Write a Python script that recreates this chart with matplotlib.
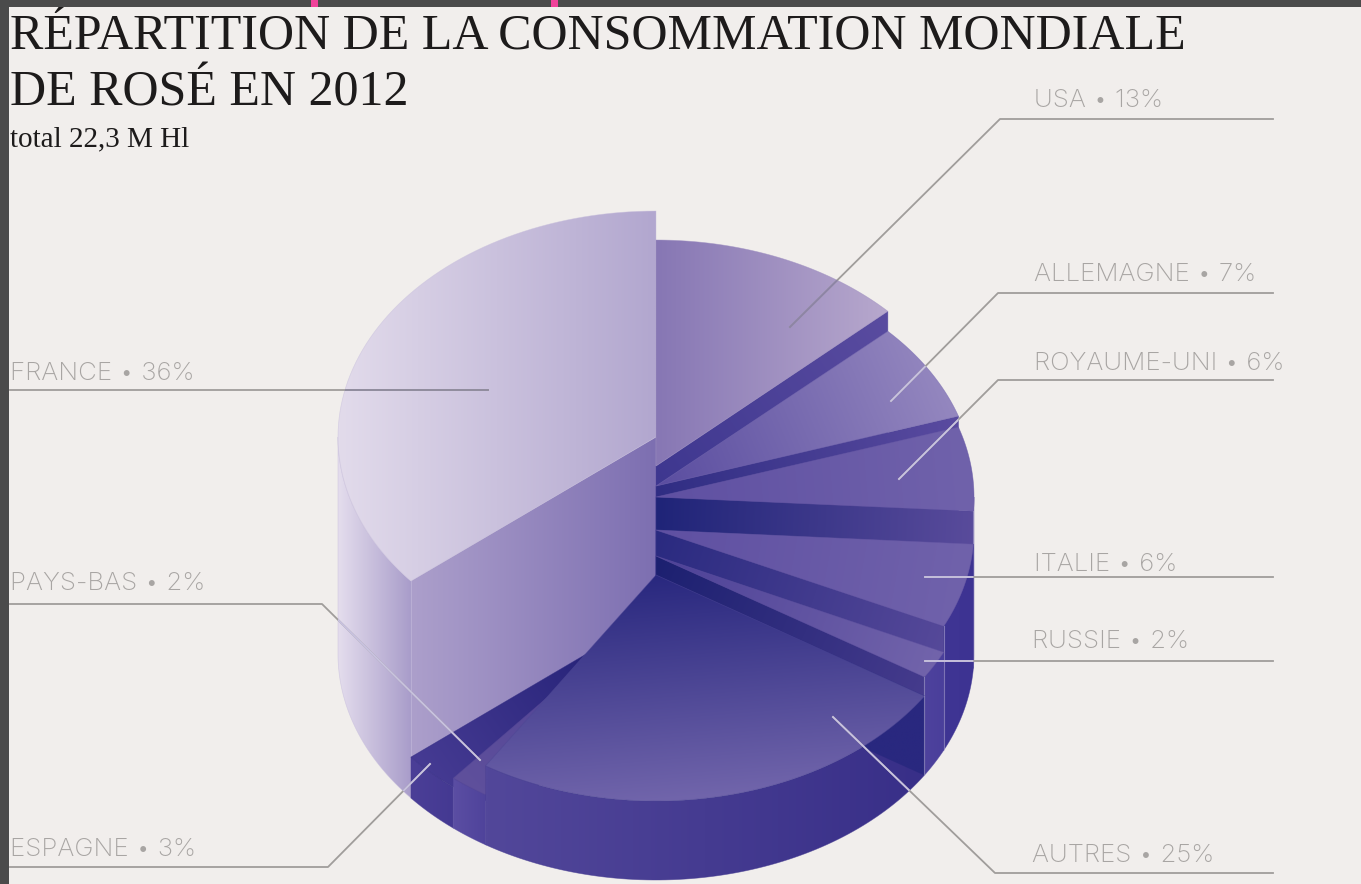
"""Stepped 3D pie: world rosé consumption by country, 2012."""

import numpy as np
import matplotlib
matplotlib.use('Agg')
import matplotlib.pyplot as plt
from matplotlib.colors import to_rgb
from matplotlib.patches import Polygon, Rectangle

W, H = 1361, 884
BG = '#f1eeec'
FRAME = '#4b4b4b'
PINK = '#f0429a'

# clockwise from 12 o'clock
countries = ['USA', 'ALLEMAGNE', 'ROYAUME-UNI', 'ITALIE', 'RUSSIE',
             'AUTRES', 'PAYS-BAS', 'ESPAGNE', 'FRANCE']
shares = [13, 7, 6, 6, 2, 25, 2, 3, 36]

title_lines = ['RÉPARTITION DE LA CONSOMMATION MONDIALE', 'DE ROSÉ EN 2012']
subtitle = 'total 22,3 M Hl'

# pie geometry, in pixels
CX, RX, RY = 656, 318, 226
BASE = 654  # centre of the bottom ellipse
levels = [466, 486, 497, 530, 556, 575, 604, 613, 437]  # centre of each top

# top face gradient: from, to, screen direction (None = apex towards rim)
face_from = ['#8777b4', '#5a4da0', '#5f50a2', '#5f50a2', '#4d4197',
             '#29287f', '#4a3d92', '#1c1b70', '#e2dbeb']
face_to = ['#b7a8cd', '#9487bf', '#7062ab', '#7062ab', '#7264ab',
           '#7165ab', '#5f509c', '#463b93', '#b2a7cf']
face_dir = [(1, 0), None, None, None, None, (0.08, 1), None, None, (1, 0)]

# outer wall gradient, left to right
rim_left = ['#6a5aa5', '#6a5aa5', '#6a5aa5', '#3f3594', '#4e429d',
            '#52479a', '#5b4ea3', '#4b3f97', '#e4dded']
rim_right = ['#6a5aa5', '#6a5aa5', '#6a5aa5', '#3d3392', '#4a3f9b',
             '#382f88', '#4f439b', '#443992', '#a99dca']

# radial wall gradient, apex to rim
cut_from = ['#35308a', '#2b2a80', '#1f2478', '#2a2a80', '#1c2070',
            '#29287f', '#3a3090', '#2a2685', '#7d6fb1']
cut_to = ['#5a4ca0', '#5a4ba0', '#5a4c9c', '#5a4c9c', '#4a3e90',
          '#29287f', '#5b4ea3', '#4b3f97', '#ac9fcb']

# leader lines per country, and their colour where they cross the pie
leaders = {
    'USA': [(1273, 119), (1000, 119), (790, 327)],
    'ALLEMAGNE': [(1273, 293), (998, 293), (891, 401)],
    'ROYAUME-UNI': [(1273, 380), (998, 380), (899, 479)],
    'ITALIE': [(1273, 577), (925, 577)],
    'RUSSIE': [(1273, 661), (925, 661)],
    'AUTRES': [(1273, 873), (995, 873), (833, 717)],
    'PAYS-BAS': [(10, 604), (322, 604), (480, 760)],
    'ESPAGNE': [(10, 867), (328, 867), (430, 764)],
    'FRANCE': [(10, 390), (488, 390)],
}
leader_inner = {'USA': '#8d84a6', 'FRANCE': '#8f8b9e'}
LEADER_OUT = '#a09d9b'
LEADER_IN = '#c8c2e0'

# left end and baseline of each label
label_pos = {
    'USA': (1034, 107), 'ALLEMAGNE': (1034, 281), 'ROYAUME-UNI': (1034, 370),
    'ITALIE': (1034, 571), 'RUSSIE': (1032, 648), 'AUTRES': (1032, 862),
    'PAYS-BAS': (10, 590), 'ESPAGNE': (10, 856), 'FRANCE': (10, 380),
}

fig = plt.figure(figsize=(W / 100, H / 100), dpi=100, facecolor=BG)
ax = fig.add_axes([0, 0, 1, 1])
ax.set_axis_off()


def rim(deg, level):
    """Screen points on the ellipse of centre height level."""
    rad = np.radians(deg)
    return np.column_stack([CX + RX * np.sin(rad), level - RY * np.cos(rad)])


def gradient_fill(verts, c_from, c_to, direction, seam=True):
    """Fill a polygon with a linear gradient along direction."""
    verts = np.asarray(verts, dtype=float)
    dx, dy = direction
    proj = verts[:, 0] * dx + verts[:, 1] * dy
    x0, y0 = verts.min(axis=0)
    x1, y1 = verts.max(axis=0)
    xs, ys = np.meshgrid(np.linspace(x0, x1, 96), np.linspace(y0, y1, 96))
    t = (xs * dx + ys * dy - proj.min()) / max(proj.max() - proj.min(), 1e-6)
    t = np.clip(t, 0, 1)[..., None]
    img = np.array(to_rgb(c_from)) * (1 - t) + np.array(to_rgb(c_to)) * t
    im = ax.imshow(img, extent=(x0, x1, y0, y1), origin='lower',
                   aspect='auto', interpolation='bilinear', zorder=1)
    patch = Polygon(verts, closed=True, transform=ax.transData)
    im.set_clip_path(patch)
    if seam:
        # thin outline softens the hard clip edge
        mid = (np.array(to_rgb(c_from)) + np.array(to_rgb(c_to))) / 2
        ax.add_patch(Polygon(verts, closed=True, fill=False, edgecolor=mid,
                             lw=0.5, alpha=0.6, zorder=1))


def draw_slice(i):
    a0, a1 = starts[i], starts[i + 1]
    level = levels[i]
    arc = np.linspace(a0, a1, 80)
    top_rim = rim(arc, level)
    apex = (CX, level)

    # outer wall, only the front half of the cylinder shows
    lo, hi = max(a0, 90), min(a1, 270)
    if hi > lo:
        wall = np.linspace(lo, hi, 80)
        verts = np.vstack([rim(wall, level), rim(wall, BASE)[::-1]])
        gradient_fill(verts, rim_left[i], rim_right[i], (1, 0))

    # radial wall facing the viewer
    cut_a = a1 if a1 < 180 else a0
    if 0 < cut_a < 180 or (cut_a > 180 and a0 > 180):
        edge = rim(cut_a, level)[0]
        edge_low = rim(cut_a, BASE)[0]
        verts = [apex, edge, edge_low, (CX, BASE)]
        direction = edge - np.array(apex)
        if i == len(shares) - 1:
            gradient_fill(verts, cut_to[i], cut_from[i], (1, 0))
        else:
            gradient_fill(verts, cut_from[i], cut_to[i], direction)

    # top face
    verts = np.vstack([[apex], top_rim])
    direction = face_dir[i]
    if direction is None:
        mid = rim((a0 + a1) / 2, level)[0]
        direction = mid - np.array(apex)
    gradient_fill(verts, face_from[i], face_to[i], direction)

    # pale seam on the front corners of the wall
    if 90 < cut_a < 270:
        x, y = rim(cut_a, level)[0]
        y_low = rim(cut_a, BASE)[0][1]
        ax.plot([x, x], [y, y_low], color='#cfc8e4', lw=0.8, alpha=0.45,
                zorder=1)


starts = np.concatenate([[0], np.cumsum(shares) / sum(shares) * 360])

# back to front: France, right side clockwise, then left side from Espagne
for i in [8, 0, 1, 2, 3, 4, 7, 6, 5]:
    draw_slice(i)

# outline of the whole pie, used to recolour leaders where they cross it
outline = [rim(np.linspace(270, 360, 60), levels[8])]
for i in range(4):
    outline.append(rim(np.linspace(starts[i], min(starts[i + 1], 93.6), 40),
                       levels[i]))
outline.append(rim(np.linspace(93.6, 270, 120), BASE))
outline = np.vstack(outline)

for name, pts in leaders.items():
    xs, ys = zip(*pts)
    ax.plot(xs, ys, color=LEADER_OUT, lw=1.3, zorder=3,
            solid_joinstyle='round')
    inner, = ax.plot(xs, ys, color=leader_inner.get(name, LEADER_IN), lw=1.3,
                     zorder=3, solid_joinstyle='round')
    inner.set_clip_path(Polygon(outline, closed=True, transform=ax.transData))

for name, share in zip(countries, shares):
    x, y = label_pos[name]
    ax.text(x, y, f'{name} • {share}%', family=['Inter', 'DejaVu Sans'],
            fontsize=18.6, weight='light', color='#a8a5a3', ha='left',
            va='baseline', zorder=4)

ax.text(10, 50, title_lines[0], family='Liberation Serif', fontsize=36,
        color='#1d1b1b', va='baseline', zorder=4)
ax.text(10, 105, title_lines[1], family='Liberation Serif', fontsize=36,
        color='#1d1b1b', va='baseline', zorder=4)
ax.text(10, 146, subtitle, family='Liberation Serif', fontsize=21,
        color='#1d1b1b', va='baseline', zorder=4)

# dark page frame with the two pink ticks along the top
ax.add_patch(Rectangle((0, 0), 9.5, H, color=FRAME, lw=0, zorder=5))
ax.add_patch(Rectangle((0, 0), W, 6.5, color=FRAME, lw=0, zorder=5))
ax.add_patch(Rectangle((311, 0), 7, 6.5, color=PINK, lw=0, zorder=6))
ax.add_patch(Rectangle((551, 0), 7, 6.5, color=PINK, lw=0, zorder=6))

ax.set_xlim(0, W)
ax.set_ylim(H, 0)
fig.savefig('out.png', dpi=100, facecolor=BG)
